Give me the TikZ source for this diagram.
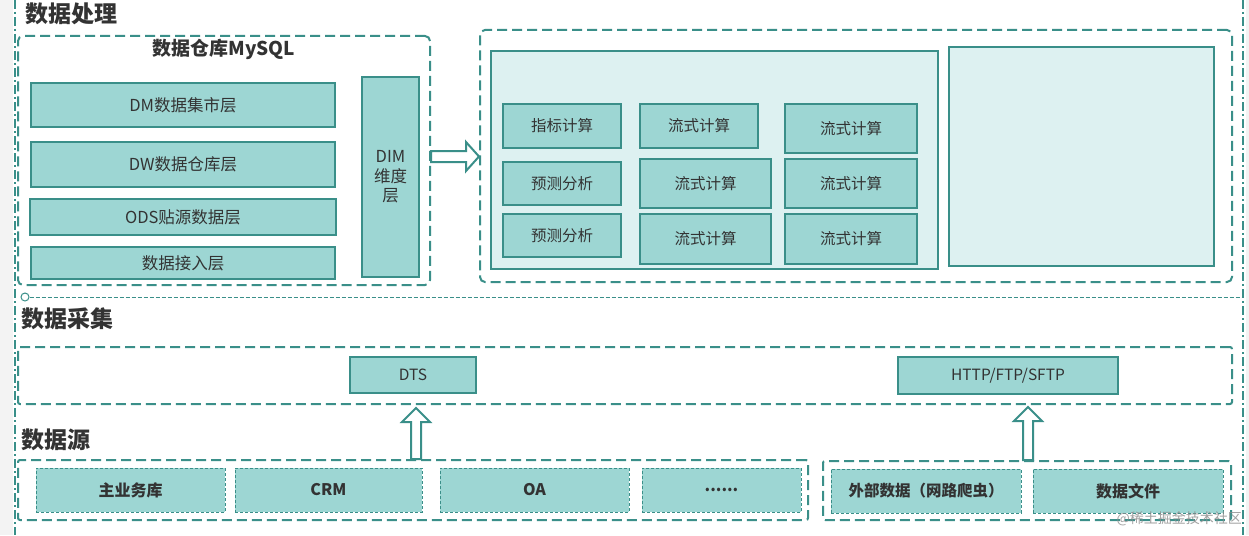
\documentclass[tikz,border=0pt]{standalone}
\usepackage{fontspec}
\setmainfont{Noto Sans CJK SC}
\usetikzlibrary{calc}
\definecolor{tealD}{HTML}{3A8F89}
\definecolor{boxF}{HTML}{9DD6D3}
\definecolor{panelF}{HTML}{DDF1F1}
\definecolor{txt}{HTML}{333333}
\definecolor{pageG}{HTML}{F3F3F3}
\tikzset{
  layer/.style={draw=tealD, line width=2pt, fill=boxF, text=txt, inner sep=0pt,
    font=\fontsize{15.5}{18}\selectfont},
  srcbox/.style={draw=tealD, line width=0.8pt, dash pattern=on 3pt off 2pt, fill=boxF,
    text=txt, inner sep=0pt, font=\fontsize{16}{18}\selectfont\bfseries},
  group/.style={draw=tealD, line width=2pt, dash pattern=on 10pt off 5pt, rounded corners=5pt, inner sep=0pt},
  panel/.style={draw=tealD, line width=2pt, fill=panelF, inner sep=0pt},
  sectitle/.style={anchor=west, text=txt, inner sep=0pt, font=\fontsize{23}{26}\selectfont\bfseries},
  harrow/.style={draw=tealD, line width=2pt, fill=white, line join=miter},
  frameline/.style={draw=tealD, line width=1.5pt, dash pattern=on 9pt off 3pt on 2pt off 3pt},
}
\begin{document}
\begin{tikzpicture}[x=1pt,y=-1pt]
\useasboundingbox (0,0) rectangle (1249,535);
\fill[white] (0,0) rectangle (1249,535);
\fill[pageG] (0,0) rectangle (13,535);
\fill[pageG] (1246,0) rectangle (1249,535);
% outer frame lines
\coordinate (fl1) at (15,0);
\coordinate (fl2) at (15,535);
\coordinate (fr1) at (1243,0);
\coordinate (fr2) at (1243,535);
\draw[frameline] (fl1) -- (fl2);
\draw[frameline] (fr1) -- (fr2);
% separator
\node[circle, draw=tealD, line width=1pt, fill=white, minimum size=8pt, inner sep=0pt] (sepc) at (25,297) {};
\coordinate (sepe) at (1243,297);
\draw[tealD, line width=1pt, dash pattern=on 4pt off 2pt] (sepc.east) -- (sepe);

% ===== 数据处理 =====
\node[sectitle] (t1) at (25,14) {数据处理};
\node[group, minimum width=412, minimum height=249] (mysql) at (224,160.5) {};
\node[text=txt, inner sep=0pt, font=\fontsize{19}{22}\selectfont\bfseries] (mysqlt) at (224,49) {数据仓库MySQL};
\node[layer, font=\fontsize{16.5}{19}\selectfont, minimum width=304, minimum height=44] (dm) at (183,105) {DM数据集市层};
\node[layer, font=\fontsize{16.5}{19}\selectfont, minimum width=304, minimum height=45] (dw) at (183,164.5) {DW数据仓库层};
\node[layer, font=\fontsize{16.5}{19}\selectfont, minimum width=306, minimum height=36] (ods) at (183,217) {ODS贴源数据层};
\node[layer, font=\fontsize{16.5}{19}\selectfont, minimum width=304, minimum height=32] (jr) at (183,263) {数据接入层};
\node[layer, minimum width=57, minimum height=200, align=center,
  font=\fontsize{16.5}{19.5}\selectfont] (dim) at (390.5,177) {DIM\\维度\\层};

\node[group, minimum width=752, minimum height=252] (proc) at (856,156) {};
\node[panel, minimum width=447, minimum height=218] (pl) at (714.5,160) {};
\node[panel, minimum width=265, minimum height=219] (pr) at (1081.5,156.5) {};
\node[layer, minimum width=118, minimum height=44] (c11) at (562,126) {指标计算};
\node[layer, minimum width=118, minimum height=44] (c12) at (699,126) {流式计算};
\node[layer, minimum width=132, minimum height=49] (c13) at (851,128.5) {流式计算};
\node[layer, minimum width=118, minimum height=43] (c21) at (562,183.5) {预测分析};
\node[layer, minimum width=131, minimum height=49] (c22) at (705.5,183.5) {流式计算};
\node[layer, minimum width=132, minimum height=49] (c23) at (851,183.5) {流式计算};
\node[layer, minimum width=118, minimum height=43] (c31) at (562,235.5) {预测分析};
\node[layer, minimum width=131, minimum height=50] (c32) at (705.5,239) {流式计算};
\node[layer, minimum width=132, minimum height=50] (c33) at (851,239) {流式计算};

% hollow arrow right
\draw[harrow] (mysql.east |- 0,151) -- (466,151) -- (466,142) -- (proc.west |- 0,156.5)
  -- (466,171) -- (466,162) -- (mysql.east |- 0,162) -- cycle;

% ===== 数据采集 =====
\node[sectitle] (t2) at (21,319) {数据采集};
\node[group, rounded corners=2pt, minimum width=1214, minimum height=57] (coll) at (625,375.5) {};
\node[layer, minimum width=126, minimum height=36] (dts) at (413,375) {DTS};
\node[layer, minimum width=220, minimum height=37] (http) at (1008,375.5) {HTTP/FTP/SFTP};

% ===== 数据源 =====
\node[sectitle] (t3) at (21,440) {数据源};
\node[group, rounded corners=2pt, minimum width=790, minimum height=60] (srcL) at (413,490) {};
\node[group, rounded corners=2pt, minimum width=408, minimum height=59] (srcR) at (1027,490.5) {};
\node[srcbox, minimum width=189, minimum height=44] (s1) at (130.5,490) {主业务库};
\node[srcbox, minimum width=187, minimum height=44] (s2) at (328.5,490) {CRM};
\node[srcbox, minimum width=189, minimum height=44] (s3) at (534.5,490) {OA};
\node[srcbox, minimum width=159, minimum height=44] (s4) at (721.5,490) {......};
\node[srcbox, font=\fontsize{15.5}{18}\selectfont\bfseries, minimum width=190, minimum height=44] (s5) at (926,491) {外部数据（网路爬虫）};
\node[srcbox, minimum width=190, minimum height=44] (s6) at (1128,491) {数据文件};

% hollow arrows up
\draw[harrow] (411,0 |- srcL.north) -- (411,422) -- (402,422) -- (416,408) -- (430,422)
  -- (421,422) -- (421,0 |- srcL.north) -- cycle;
\draw[harrow] (1023,0 |- srcR.north) -- (1023,421) -- (1014,421) -- (1028,407) -- (1042,421)
  -- (1033,421) -- (1033,0 |- srcR.north) -- cycle;

% watermark
\node[anchor=east, text=black!45, opacity=0.8, inner sep=0pt, font=\fontsize{14}{16}\selectfont] (wm) at (1242,519) {@稀土掘金技术社区};
\end{tikzpicture}
\end{document}
